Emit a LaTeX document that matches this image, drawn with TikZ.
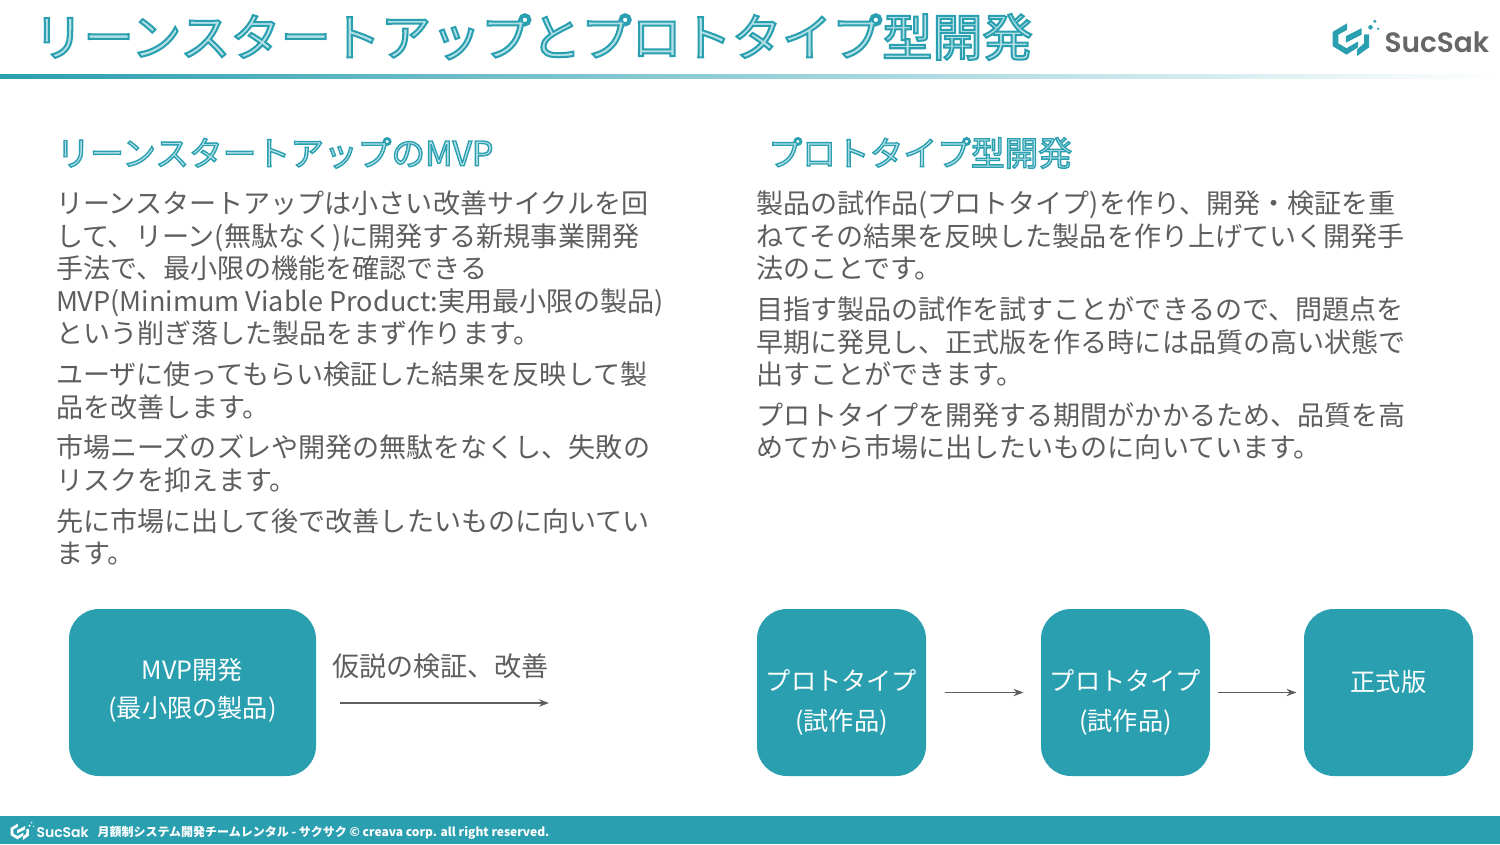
\documentclass[tikz,border=0pt]{standalone}
\usepackage{fontspec}
\usetikzlibrary{arrows.meta}
\setmainfont{Noto Sans CJK JP}
\newfontfamily\logofont{Poppins SemiBold}
\newfontfamily\strokefont[FakeBold=4]{Noto Sans CJK JP}
\definecolor{sucteal}{HTML}{2A9FB0}
\definecolor{sucpale}{HTML}{B4E0E6}
\definecolor{sucgray}{HTML}{5E5E5E}
\newcommand{\outlined}[1]{\special{pdf:code 0.165 0.624 0.69 RG}#1}
\tikzset{every picture/.style={line width=0.75pt},
  bodytext/.style={anchor=west,inner sep=0pt,text=sucgray,align=left,font=\fontsize{20.3}{24.4}\selectfont},
  headtext/.style={anchor=west,inner sep=0pt,text=sucpale,font=\strokefont\fontsize{25.3}{28}\selectfont},
  flowbox/.style={anchor=center,fill=sucteal,rounded corners=22.5pt,inner sep=0pt,minimum height=125.25pt},
  flowtext/.style={anchor=center,inner sep=0pt,text=white,align=center,font=\fontsize{18.9}{30}\selectfont},
  flowarrow/.style={draw=sucgray,-{Stealth[length=7.5pt,width=5.5pt]},line width=1.3pt},
  logomark/.pic={
    \fill (13.6,3.3) -- (-1,12) -- (-1,26) -- (13,34.7) -- (24.5,27.3) -- (24.5,21.5) -- (13,28.2) -- (4.8,23.3) -- (4.8,14.7) -- (13.6,9.8) -- cycle;
    \fill (12.3,16.2) -- (28,8.2) -- (28,14.7) -- (12.3,22.7) -- cycle;
    \fill (23.6,36) -- (35.6,27.3) -- (35.6,14.3) -- (30.5,14.3) -- (30.5,23.3) -- (23.6,29.5) -- cycle;
    \fill (41.3,1.3) circle (1.7) (37,7.3) circle (2.3) (44.6,8.7) circle (1.3);
  }}
\begin{document}
\begin{tikzpicture}[x=0.75pt,y=0.75pt,yscale=-1,xscale=1]
\useasboundingbox (0,0) rectangle (1500,844);

%Shape: Rectangle title rule
\shade [left color=sucteal,right color=white] (0,74) rectangle (1500,78);
%Shape: Rectangle footer
\fill [sucteal] (0,816) rectangle (1500,844);

% Text Node
\node (title) at (33,37) [headtext,font=\strokefont\fontsize{37.6}{40}\selectfont] {\outlined{リーンスタートアップとプロトタイプ型開発}};
% Logo
\pic [sucteal,transform shape] at (1333.5,20) {logomark};
\node (logoname) at (1384,42) [anchor=west,inner sep=0pt,text=sucgray!95,font=\logofont\fontsize{21}{24}\selectfont] {SucSak};

% Text Node
\node (headlean) at (56,153) [headtext] {\outlined{リーンスタートアップのMVP}};
\node (headproto) at (768,153) [headtext] {\outlined{プロトタイプ型開発}};

% Text Node
\node (leanone) at (55.5,268.5) [bodytext] {リーンスタートアップは小さい改善サイクルを回\\して、リーン(無駄なく)に開発する新規事業開発\\手法で、最小限の機能を確認できる\\MVP(Minimum Viable Product:実用最小限の製品)\\という削ぎ落した製品をまず作ります。};
\node (leantwo) at (55.5,390.5) [bodytext] {ユーザに使ってもらい検証した結果を反映して製\\品を改善します。};
\node (leanthree) at (55.5,463.5) [bodytext] {市場ニーズのズレや開発の無駄をなくし、失敗の\\リスクを抑えます。};
\node (leanfour) at (55.5,537) [bodytext] {先に市場に出して後で改善したいものに向いてい\\ます。};
\node (protoone) at (755.5,236) [bodytext] {製品の試作品(プロトタイプ)を作り、開発・検証を重\\ねてその結果を反映した製品を作り上げていく開発手\\法のことです。};
\node (prototwo) at (755.5,342) [bodytext] {目指す製品の試作を試すことができるので、問題点を\\早期に発見し、正式版を作る時には品質の高い状態で\\出すことができます。};
\node (protothree) at (755.5,431) [bodytext] {プロトタイプを開発する期間がかかるため、品質を高\\めてから市場に出したいものに向いています。};

%Rounded Rect
\node (mvpbox) at (192.5,692.5) [flowbox,minimum width=185.25pt] {};
\node (protoa) at (841.5,692.5) [flowbox,minimum width=126.75pt] {};
\node (protob) at (1125.5,692.5) [flowbox,minimum width=126.75pt] {};
\node (release) at (1388.5,692.5) [flowbox,minimum width=126.75pt] {};

% Text Node
\node (mvptext) at (192.5,690.5) [flowtext,font=\fontsize{18.9}{29}\selectfont] {MVP開発\\(最小限の製品)};
\node (protoatext) at (841.5,702.5) [flowtext] {プロトタイプ\\(試作品)};
\node (protobtext) at (1125.5,702.5) [flowtext] {プロトタイプ\\(試作品)};
\node (releasetext) at (1388.5,682) [flowtext] {正式版};
\node (checklabel) at (332,666) [bodytext] {仮説の検証、改善};

\coordinate (checkstart) at (340,703);
\coordinate (checkend) at (549,703);
\draw [flowarrow] (checkstart) -- (checkend);
\draw [flowarrow,shorten <=13.5pt,shorten >=12.75pt] (protoa) -- (protob);
\draw [flowarrow,shorten <=5.25pt,shorten >=5.25pt] (protob) -- (release);

% Footer
\pic [white,transform shape,scale=0.5] at (11,822) {logomark};
\node (footlogo) at (36,832) [anchor=west,inner sep=0pt,text=white,font=\logofont\fontsize{10.5}{12}\selectfont] {SucSak};
\node (foottext) at (97,833) [anchor=west,inner sep=0pt,text=white,font=\bfseries\fontsize{9}{11}\selectfont] {月額制システム開発チームレンタル - サクサク © creava corp. all right reserved.};

\end{tikzpicture}
\end{document}
